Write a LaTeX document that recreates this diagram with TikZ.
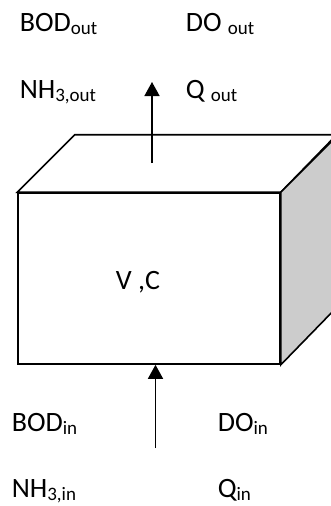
\documentclass[tikz,border=0pt]{standalone}
\usepackage{fontspec}
\setmainfont{Carlito}
\usetikzlibrary{arrows.meta,positioning,calc}
\tikzset{
  every picture/.style={line width=1.6pt},
  sTank/.style={draw, fill=white, minimum width=262pt, minimum height=171pt,
                inner sep=0pt},
  sFlow/.style={-{Triangle[width=15pt,length=14pt]}},
  sLabel/.style={anchor=base west, inner sep=0pt,
                 font=\fontsize{28}{30}\selectfont},
}
\newcommand{\sub}[1]{\raisebox{-3.3pt}{\fontsize{19}{20}\selectfont #1}}

\begin{document}
\begin{tikzpicture}[x=1pt,y=-1pt]
  \clip (0,0) rectangle (331,506);
  % front face of the tank, then the two faces seen in depth
  \node[sTank] (tank) at (149,278.5) {};
  \draw[fill=white] (tank.north west) -- ++(57.5,-57.5) -- ++(262,0)
        -- (tank.north east) -- cycle;
  \draw[fill=black!20] (tank.north east) -- ++(57.5,-57.5) -- ++(0,171)
        -- (tank.south east) -- cycle;
  \node[sLabel] (vc) at (115,289) {V ,C};
  % outflow
  \coordinate (outfoot) at (152,163);
  \coordinate (outtip) at (152,82);
  \draw[sFlow] (outfoot) -- (outtip);
  \node[sLabel] (bodout) at (19,31) {BOD\sub{out}};
  \node[sLabel] (doout) at (185,31) {DO \sub{out}};
  \node[sLabel] (nhout) at (19,98) {NH\sub{3,out}};
  \node[sLabel] (qout) at (185,98) {Q \sub{out}};
  % inflow
  \coordinate (infoot) at (155.5,448);
  \draw[sFlow] (infoot) -- (infoot |- tank.south);
  \node[sLabel] (bodin) at (11,431) {BOD\sub{in}};
  \node[sLabel] (doin) at (217,431) {DO\sub{in}};
  \node[sLabel] (nhin) at (11,497) {NH\sub{3,in}};
  \node[sLabel] (qin) at (217,497) {Q\sub{in}};
\end{tikzpicture}
\end{document}
